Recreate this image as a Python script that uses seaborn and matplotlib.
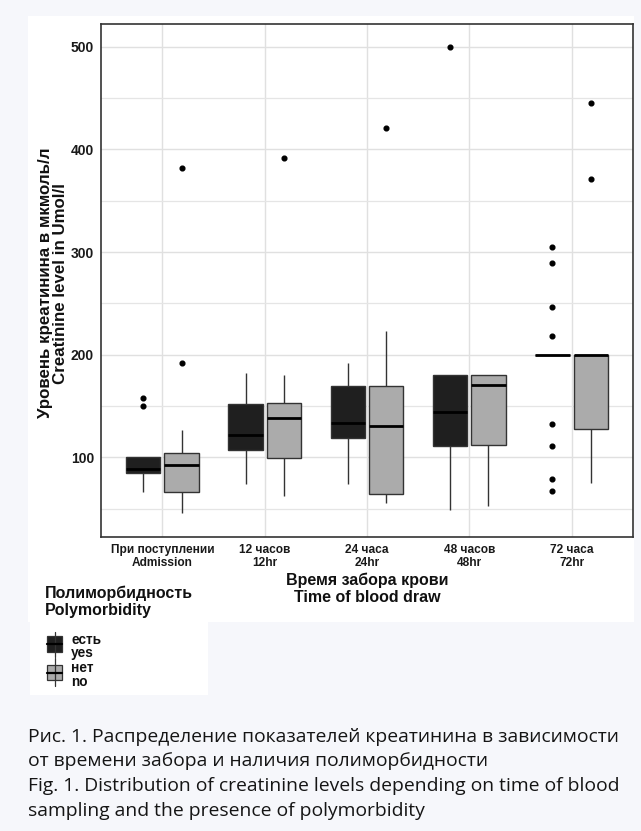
import numpy as np
import pandas as pd
import seaborn as sns
import matplotlib
matplotlib.use("Agg")
import matplotlib.pyplot as plt
from matplotlib.patches import Rectangle
from matplotlib.lines import Line2D

# ---------------- data ----------------
time_labels = ["При поступлении\nAdmission", "12 часов\n12hr", "24 часа\n24hr",
               "48 часов\n48hr", "72 часа\n72hr"]
groups = ["есть\nyes", "нет\nno"]

adm_yes = [66, 80, 84.5, 87, 89, 95, 100, 150, 157.5]
adm_no = [46, 55, 62, 66.5, 75, 85, 93, 97, 100, 104, 126.5, 191.5, 382]
h12_yes = [74, 107, 122, 152, 182]
h12_no = [62, 80, 99, 120, 138.5, 145, 152.5, 180, 392]
h24_yes = [74, 118.5, 133.5, 169.5, 191.5]
h24_no = [56, 60, 64, 100, 130.5, 150, 169.5, 223, 421]
h48_yes = [49, 90, 111, 130, 144, 170, 180, 180, 500]
h48_no = [53, 112.5, 170.5, 180, 180]
h72_yes = [67.5, 78.5, 111, 133, 200, 200, 200, 200, 200, 200, 200, 200, 200,
           218, 246, 289, 305]
h72_no = [75.5, 100, 127.5, 170, 200, 200, 200, 371, 445]

y_ticks = [100, 200, 300, 400, 500]
y_minor = [50, 150, 250, 350, 450]

caption = ["Рис. 1. Распределение показателей креатинина в зависимости",
           "от времени забора и наличия полиморбидности",
           "Fig. 1. Distribution of creatinine levels depending on time of blood",
           "sampling and the presence of polymorbidity"]

series = {
    (time_labels[0], groups[0]): adm_yes, (time_labels[0], groups[1]): adm_no,
    (time_labels[1], groups[0]): h12_yes, (time_labels[1], groups[1]): h12_no,
    (time_labels[2], groups[0]): h24_yes, (time_labels[2], groups[1]): h24_no,
    (time_labels[3], groups[0]): h48_yes, (time_labels[3], groups[1]): h48_no,
    (time_labels[4], groups[0]): h72_yes, (time_labels[4], groups[1]): h72_no,
}
rows = []
for (t, g), vals in series.items():
    for v in vals:
        rows.append({"time": t, "group": g, "value": v})
df = pd.DataFrame(rows)

# ---------------- style ----------------
sns.set_style("white")
plt.rcParams["font.family"] = ["Liberation Sans", "DejaVu Sans"]

W, H = 641, 831
fig = plt.figure(figsize=(W / 100, H / 100), dpi=100, facecolor="#f6f7fb")

def fx(px):
    return px / W

def fy(py):
    return 1 - py / H

# white panels
fig.add_artist(Rectangle((fx(28), fy(622)), fx(634) - fx(28), fy(16) - fy(622),
                         transform=fig.transFigure, facecolor="white",
                         edgecolor="none", zorder=-10))
fig.add_artist(Rectangle((fx(30), fy(695)), fx(208) - fx(30), fy(622) - fy(695),
                         transform=fig.transFigure, facecolor="white",
                         edgecolor="none", zorder=-10))

ax = fig.add_axes([fx(101), fy(537), fx(633) - fx(101), fy(24) - fy(537)])
ax.set_facecolor("white")

fill = {groups[0]: "#1f1f1f", groups[1]: "#ababab"}
sns.boxplot(data=df, x="time", y="value", hue="group", order=time_labels,
            hue_order=groups, palette=fill, saturation=1, width=0.75, gap=0.1,
            linecolor="#333333", linewidth=1.0, fliersize=3.4, legend=False,
            showcaps=False,
            flierprops=dict(marker="o", markerfacecolor="black",
                            markeredgecolor="black"),
            medianprops=dict(color="black", linewidth=2.0),
            ax=ax)

ax.set_ylim(22.5, 522)
ax.set_xlim(-0.6, 4.6)
ax.set_yticks(y_ticks)
ax.set_yticks(y_minor, minor=True)
ax.set_axisbelow(True)
ax.grid(which="major", axis="both", color="#e0e0e0", linewidth=1.0)
ax.grid(which="minor", axis="y", color="#e5e5e5", linewidth=0.9)
for s in ax.spines.values():
    s.set_visible(True)
    s.set_color("#333333")
    s.set_linewidth(1.2)
ax.tick_params(axis="both", which="major", direction="out", length=3,
               width=0.9, color="#333333", pad=2)
ax.tick_params(axis="y", which="minor", length=0)
ax.set_yticklabels([str(v) for v in y_ticks], fontsize=10, fontweight="bold",
                   color="#1a1a1a")
ax.set_xticks(range(len(time_labels)))
ax.set_xticklabels(time_labels, fontsize=8.6, fontweight="bold",
                   color="#1a1a1a", linespacing=1.12)
ax.set_xlabel("")
ax.set_ylabel("")

# axis titles
fig.text(fx(53), fy(283), "Уровень креатинина в мкмоль/л\nCreatinine level in Umol/l",
         rotation=90, ha="center", va="center", fontsize=12.2,
         fontweight="bold", color="#111111", linespacing=1.0,
         multialignment="center")
fig.text(fx(367), fy(589), "Время забора крови\nTime of blood draw",
         ha="center", va="center", fontsize=11.5, fontweight="bold",
         color="#111111", linespacing=1.15, multialignment="center")

# legend
fig.text(fx(45), fy(602), "Полиморбидность\nPolymorbidity", ha="left",
         va="center", fontsize=11.5, fontweight="bold", color="#111111",
         linespacing=1.2)

def key(y_top, y_bot, w_top, w_bot, color):
    cx = 54.5
    fig.add_artist(Line2D([fx(cx), fx(cx)], [fy(w_top), fy(w_bot)],
                          transform=fig.transFigure, color="#333333", lw=0.9))
    fig.add_artist(Rectangle((fx(47), fy(y_bot)), fx(62) - fx(47),
                             fy(y_top) - fy(y_bot), transform=fig.transFigure,
                             facecolor=color, edgecolor="#333333", lw=0.9))
    ym = (y_top + y_bot) / 2
    fig.add_artist(Line2D([fx(47), fx(62)], [fy(ym), fy(ym)],
                          transform=fig.transFigure, color="black", lw=1.6))

key(636, 652, 632, 657, fill[groups[0]])
key(665, 680, 658, 686, fill[groups[1]])
fig.text(fx(71), fy(646.5), groups[0], ha="left", va="center", fontsize=9.8,
         fontweight="bold", color="#111111", linespacing=1.0)
fig.text(fx(71), fy(675.5), groups[1], ha="left", va="center", fontsize=9.8,
         fontweight="bold", color="#111111", linespacing=1.0)

# caption
for i, line in enumerate(caption):
    fig.text(fx(28), fy(742 + 24.5 * i), line, ha="left", va="baseline",
             fontsize=13.9, family=["Open Sans", "DejaVu Sans"], color="#151515")

fig.savefig("out.png", dpi=100, facecolor=fig.get_facecolor())
